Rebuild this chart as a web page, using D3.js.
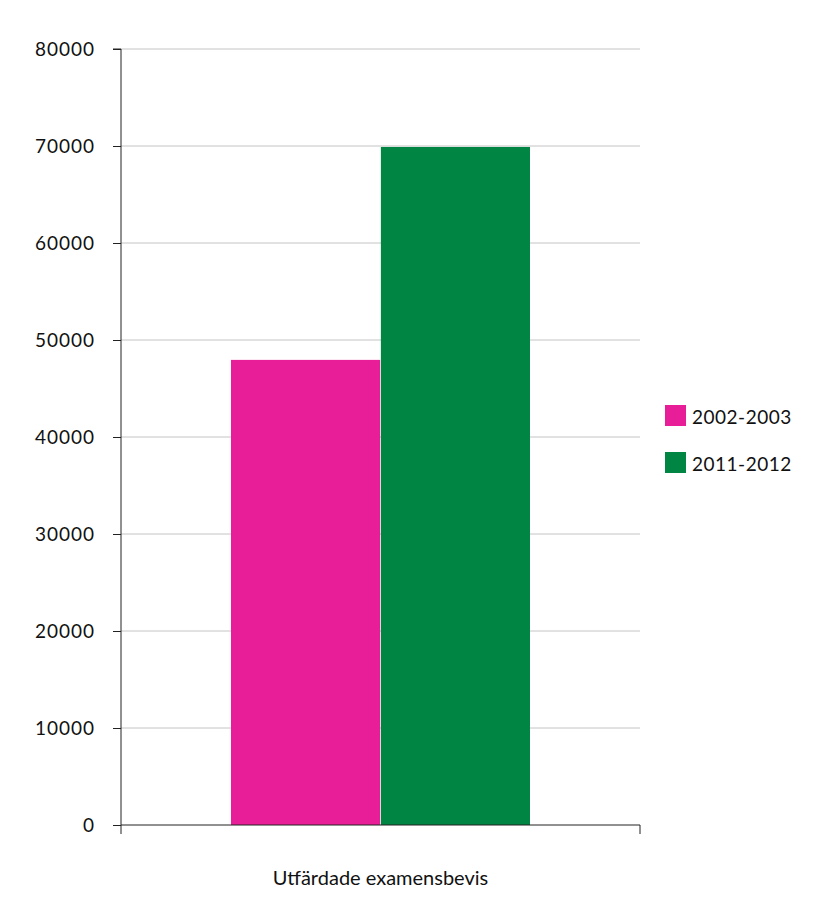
<!DOCTYPE html>
<html><head><meta charset="utf-8">
<script src="https://cdn.jsdelivr.net/npm/d3@7"></script>
<style>body{margin:0;background:#fff}text{font-family:Lato,"Open Sans",sans-serif;fill:#111}</style>
</head><body><svg id="c" width="826" height="923"></svg>
<script>
const categories = ["Utfärdade examensbevis"];
const seriesNames = ["2002-2003", "2011-2012"];
const seriesValues = [47950, 69900];
const colors = ["#e81e98", "#008542"];
const yTicks = [0,10000,20000,30000,40000,50000,60000,70000,80000];

const svg = d3.select("#c");
const L=121, R=640, T=49, B=825;
const y = d3.scaleLinear().domain([0,80000]).range([B,T]);
const x0 = d3.scaleBand().domain(categories).range([L,R]);
const x1 = d3.scaleBand().domain(seriesNames).range([x0(categories[0])+110, x0(categories[0])+409]).paddingInner(0.005);

svg.append("g").selectAll("line").data(yTicks.slice(1)).join("line")
  .attr("x1",L).attr("x2",R).attr("y1",d=>y(d)).attr("y2",d=>y(d))
  .attr("stroke","#c4c4c4").attr("stroke-width",1);

svg.append("g").selectAll("rect").data(seriesValues).join("rect")
  .attr("x",(d,i)=>x1(seriesNames[i])).attr("width",x1.bandwidth())
  .attr("y",d=>y(d)).attr("height",d=>B-y(d)).attr("fill",(d,i)=>colors[i]);

const ya = svg.append("g").attr("transform",`translate(${L},0)`)
  .call(d3.axisLeft(y).tickValues(yTicks).tickSize(8).tickFormat(d3.format("d")));
ya.select(".domain").attr("stroke","#222").attr("d",`M-8,${T}H0V${B}`);
ya.selectAll(".tick line").attr("stroke","#222");
ya.selectAll(".tick text").attr("x",-26).style("font-size","19px").style("letter-spacing","1px").attr("fill","#111");

const xa = svg.append("g").attr("transform",`translate(0,${B})`);
xa.append("line").attr("x1",L).attr("x2",R).attr("stroke","#222");
[L,R].forEach(v=>xa.append("line").attr("x1",v).attr("x2",v).attr("y1",0).attr("y2",9).attr("stroke","#222"));
xa.append("text").attr("x",(L+R)/2).attr("y",60).attr("text-anchor","middle").style("font-size","20px").text(categories[0]);

const lg = svg.append("g");
seriesNames.forEach((n,i)=>{
  lg.append("rect").attr("x",665).attr("y",405+i*47).attr("width",21).attr("height",21).attr("fill",colors[i]);
  lg.append("text").attr("x",692).attr("y",424+i*47).style("font-size","19px").style("letter-spacing","0.5px").text(n);
});
</script></body></html>
